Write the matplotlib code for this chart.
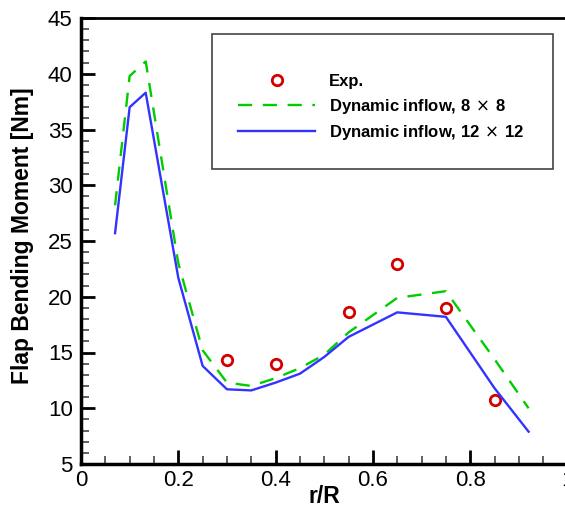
import numpy as np
import matplotlib
matplotlib.use("Agg")
import matplotlib.pyplot as plt
from matplotlib.patches import Rectangle
from matplotlib.ticker import MultipleLocator

plt.rcParams['font.family'] = ['Liberation Sans', 'DejaVu Sans']

# ------------------ DATA -------------------#
# experiment
r_exp = [0.30, 0.40, 0.55, 0.65, 0.75, 0.85]
m_exp = [14.3, 14.0, 18.6, 22.9, 19.0, 10.7]

# dynamic inflow, 8x8
r_8 = [0.07, 0.10, 0.133, 0.20, 0.25, 0.30, 0.35, 0.40, 0.45, 0.50, 0.55, 0.65, 0.75, 0.85, 0.92]
m_8 = [28.2, 39.8, 41.1, 23.0, 15.2, 12.3, 12.0, 12.7, 13.6, 14.8, 16.8, 19.9, 20.5, 14.4, 10.0]

# dynamic inflow, 12x12
r_12 = [0.07, 0.10, 0.133, 0.20, 0.25, 0.30, 0.35, 0.40, 0.45, 0.50, 0.55, 0.65, 0.75, 0.85, 0.92]
m_12 = [25.7, 37.0, 38.3, 21.7, 13.8, 11.7, 11.6, 12.3, 13.1, 14.6, 16.4, 18.6, 18.2, 11.8, 7.9]

labels = ['Exp.', r'Dynamic inflow, 8$\,\times\,$8', r'Dynamic inflow, 12$\,\times\,$12']


# ------------------ PLOT -------------------#
fig = plt.figure(figsize=(5.65, 5.07), dpi=100)
ax = fig.add_axes([81/565, 43/507, 486.5/565, 446/507])

l_exp, = ax.plot(r_exp, m_exp, linestyle='none', marker='o', markersize=7.5,
                 markerfacecolor='none', markeredgecolor='#d40000', markeredgewidth=2)
l_8, = ax.plot(r_8, m_8, color='#00cc00', linestyle=(0, (6, 4.5)), linewidth=1.7)
l_12, = ax.plot(r_12, m_12, color='#3333ff', linestyle='-', linewidth=1.7)

ax.set_xlim(0, 1)
ax.set_ylim(5, 45)
ax.xaxis.set_minor_locator(MultipleLocator(0.05))
ax.yaxis.set_major_locator(MultipleLocator(5))
ax.yaxis.set_minor_locator(MultipleLocator(1))
ax.set_xticks([0, 0.2, 0.4, 0.6, 0.8, 1.0])
ax.set_xticklabels(['0', '0.2', '0.4', '0.6', '0.8', '1'])

ax.tick_params(which='major', direction='in', length=10, width=2, labelsize=16,
               top=False, right=False)
ax.tick_params(axis='x', which='major', pad=4)
ax.tick_params(axis='y', which='major', pad=6)
ax.tick_params(which='minor', direction='in', length=6, width=1.2, color='#444444',
               top=False, right=False)
for s in ['left', 'bottom']:
    ax.spines[s].set_linewidth(2.5)
ax.spines['top'].set_linewidth(2)

ax.set_xlabel('r/R', fontsize=16.5, fontweight='bold')
ax.xaxis.set_label_coords(0.5, -0.046)
ax.set_ylabel('Flap Bending Moment [Nm]', fontsize=16.5, fontweight='bold')
ax.yaxis.set_label_coords(-0.097, 0.511)

# legend box
fig.patches.append(Rectangle((212/565, 1 - 169/507), (553-212)/565, (169-34)/507,
                             transform=fig.transFigure, fill=False,
                             edgecolor='#444444', linewidth=1.2))
fig.legend([l_exp, l_8, l_12], labels, loc='center', frameon=False,
           bbox_to_anchor=(381.5/565, 1 - 108/507), borderpad=0,
           handlelength=4.6, handletextpad=0.85, labelspacing=0.45, numpoints=1,
           prop={'size': 12, 'weight': 'bold'})

plt.savefig('out.png', dpi=100)
